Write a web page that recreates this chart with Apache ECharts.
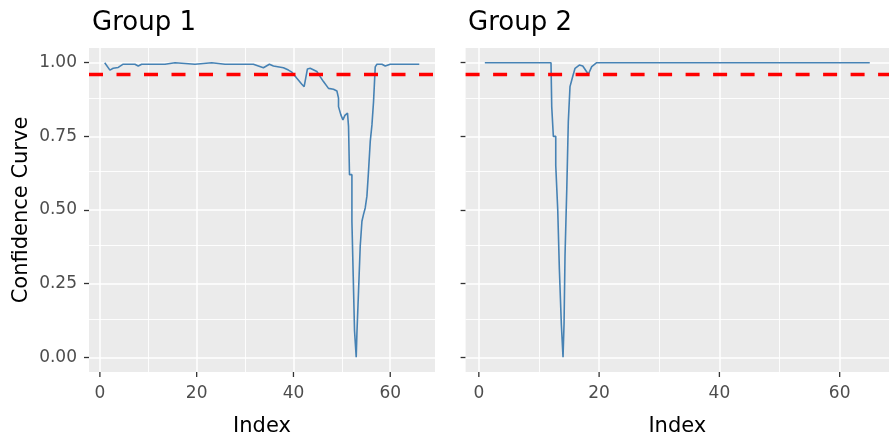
<!DOCTYPE html>
<html>
<head>
<meta charset="utf-8">
<script src="https://cdn.jsdelivr.net/npm/echarts@6/dist/echarts.min.js"></script>
<style>
html,body{margin:0;padding:0;background:#fff;}
#chart{width:889px;height:442px;}
</style>
</head>
<body>
<div id="chart"></div>
<script>
// ---- data ----
const panelTitles = ['Group 1', 'Group 2'];
const threshold = 0.956;
const xTicks = [0, 20, 40, 60];
const xMinor = [10, 30, 50];
const yTicks = [0, 0.25, 0.5, 0.75, 1];
const yMinor = [0.125, 0.375, 0.625, 0.875];

const group1 = [
  [1,1.0],[2.07,0.975],[2.75,0.981],[3.79,0.984],[4.82,0.995],[7.24,0.995],[7.92,0.989],[8.63,0.995],
  [13.45,0.995],[13.8,1.0],[15.52,1.0],[15.87,0.995],[19.66,0.995],[20.0,1.0],[23.11,1.0],[25.86,0.995],
  [31.72,0.995],[33.79,0.983],[35.03,0.995],[35.86,0.989],[37.93,0.983],[38.96,0.975],[39.67,0.968],
  [40.7,0.947],[41.73,0.927],[42.21,0.919],[42.89,0.979],[43.45,0.981],[44.84,0.970],[45.52,0.953],
  [46.2,0.936],[47.24,0.913],[48.27,0.910],[48.98,0.904],[49.31,0.880],[49.31,0.851],[49.8,0.823],
  [50.22,0.806],[50.63,0.821],[51.17,0.829],[51.38,0.784],[51.58,0.620],[52.08,0.620],[52.08,0.462],
  [52.35,0.462],[52.35,0.276],[52.62,0.276],[52.62,0.090],[52.97,0.090],[52.97,0.0],[53.11,0.079],
  [53.45,0.079],[53.45,0.225],[53.8,0.225],[53.8,0.378],[54.15,0.378],[54.15,0.462],[54.48,0.462],
  [54.48,0.485],[54.83,0.485],[54.83,0.507],[55.18,0.507],[55.18,0.547],[55.51,0.547],[55.51,0.631],
  [55.87,0.631],[55.87,0.733],[56.22,0.733],[56.22,0.789],[56.55,0.789],[56.55,0.868],[56.9,0.868],
  [56.9,0.986],[57.25,0.995],[58.29,0.995],[58.97,0.989],[60.0,0.995],[66,0.995]
];

const group2 = [
  [1,1.0],[12.0,1.0],[12.12,0.851],[12.39,0.851],[12.39,0.75],[12.79,0.75],[12.79,0.651],[13.12,0.651],
  [13.12,0.5],[13.39,0.5],[13.39,0.3],[13.72,0.3],[13.72,0.111],[14.0,0.111],[14.0,0.0],[14.17,0.115],
  [14.33,0.115],[14.33,0.345],[14.62,0.345],[14.62,0.569],[14.88,0.569],[14.88,0.801],[15.16,0.801],
  [15.16,0.919],[15.61,0.953],[16.0,0.981],[16.71,0.992],[17.28,0.989],[18.21,0.961],[18.77,0.987],
  [19.6,1.0],[65,1.0]
];

// ---- chart ----
const FONT = 'DejaVu Sans';
const Y_MIN = -0.05, Y_MAX = 1.05;
const chart = echarts.init(document.getElementById('chart'), null, {renderer: 'canvas'});

function gridLineData() {
  const d = [];
  xTicks.forEach(v => d.push({xAxis: v, lineStyle: {width: 1.5}}));
  xMinor.forEach(v => d.push({xAxis: v, lineStyle: {width: 0.9}}));
  yTicks.forEach(v => d.push({yAxis: v, lineStyle: {width: 1.5}}));
  yMinor.forEach(v => d.push({yAxis: v, lineStyle: {width: 0.9}}));
  return d;
}

const grids = [
  {left: 89, top: 48, width: 346, height: 325, show: true, backgroundColor: '#EBEBEB', borderWidth: 0},
  {left: 465.6, top: 48, width: 423.4, height: 325, show: true, backgroundColor: '#EBEBEB', borderWidth: 0}
];
const xRanges = [[-2.25, 69.25], [-2.2, 68.2]];

const xAxes = [0, 1].map(i => ({
  type: 'value', gridIndex: i, min: xRanges[i][0], max: xRanges[i][1], position: 'bottom',
  name: 'Index', nameLocation: 'middle', nameGap: 44,
  nameTextStyle: {fontFamily: FONT, fontSize: 21, color: '#000'},
  axisLine: {show: false, onZero: false},
  axisTick: {show: false},
  axisLabel: {show: true, customValues: xTicks, margin: 13, fontFamily: FONT, fontSize: 17, color: '#4D4D4D'},
  splitLine: {show: false}
}));

const yAxes = [0, 1].map(i => ({
  type: 'value', gridIndex: i, min: Y_MIN, max: Y_MAX, position: 'left',
  name: i === 0 ? 'Confidence Curve' : '', nameLocation: 'middle', nameGap: 57,
  nameTextStyle: {fontFamily: FONT, fontSize: 21, color: '#000'},
  axisLine: {show: false, onZero: false},
  axisTick: {show: true, inside: false, customValues: yTicks, length: 5, lineStyle: {color: '#333333', width: 1.3}},
  axisLabel: {show: i === 0, customValues: yTicks, margin: 12, fontFamily: FONT, fontSize: 17, color: '#4D4D4D',
    formatter: v => Number(v).toFixed(2)},
  splitLine: {show: false}
}));

const series = [];
[group1, group2].forEach((g, i) => {
  series.push({
    type: 'line', xAxisIndex: i, yAxisIndex: i, data: [], z: 1, silent: true,
    markLine: {z: 1, silent: true, symbol: 'none', label: {show: false}, animation: false,
      lineStyle: {color: '#FFFFFF', type: 'solid'}, data: gridLineData()}
  });
  series.push({
    type: 'line', xAxisIndex: i, yAxisIndex: i, data: g, z: 3,
    showSymbol: false, smooth: false, silent: true,
    lineStyle: {color: '#4682B4', width: 1.6}
  });
  series.push({
    type: 'line', xAxisIndex: i, yAxisIndex: i, data: [], z: 4, silent: true,
    markLine: {z: 6, silent: true, symbol: 'none', label: {show: false}, animation: false,
      lineStyle: {color: '#FF0000', width: 3.4, type: [14, 13.5]},
      data: [{yAxis: threshold}]}
  });
});

chart.setOption({
  animation: false,
  backgroundColor: '#FFFFFF',
  title: [
    {text: panelTitles[0], left: 87, top: 5, textStyle: {fontFamily: FONT, fontSize: 26, fontWeight: 'normal', color: '#000'}},
    {text: panelTitles[1], left: 463, top: 5, textStyle: {fontFamily: FONT, fontSize: 26, fontWeight: 'normal', color: '#000'}}
  ],
  grid: grids,
  xAxis: xAxes,
  yAxis: yAxes,
  series: series
});

// x-axis tick marks: positions come from the library's own axis scales
const tickGraphics = [];
[0, 1].forEach(i => {
  const yPix = chart.convertToPixel({yAxisIndex: i}, Y_MIN);
  xTicks.forEach(v => {
    const xPix = chart.convertToPixel({xAxisIndex: i}, v);
    tickGraphics.push({
      type: 'line', silent: true, z: 10,
      shape: {x1: xPix, y1: yPix, x2: xPix, y2: yPix + 5},
      style: {stroke: '#333333', lineWidth: 1.3}
    });
  });
});
chart.setOption({graphic: tickGraphics});
</script>
</body>
</html>
